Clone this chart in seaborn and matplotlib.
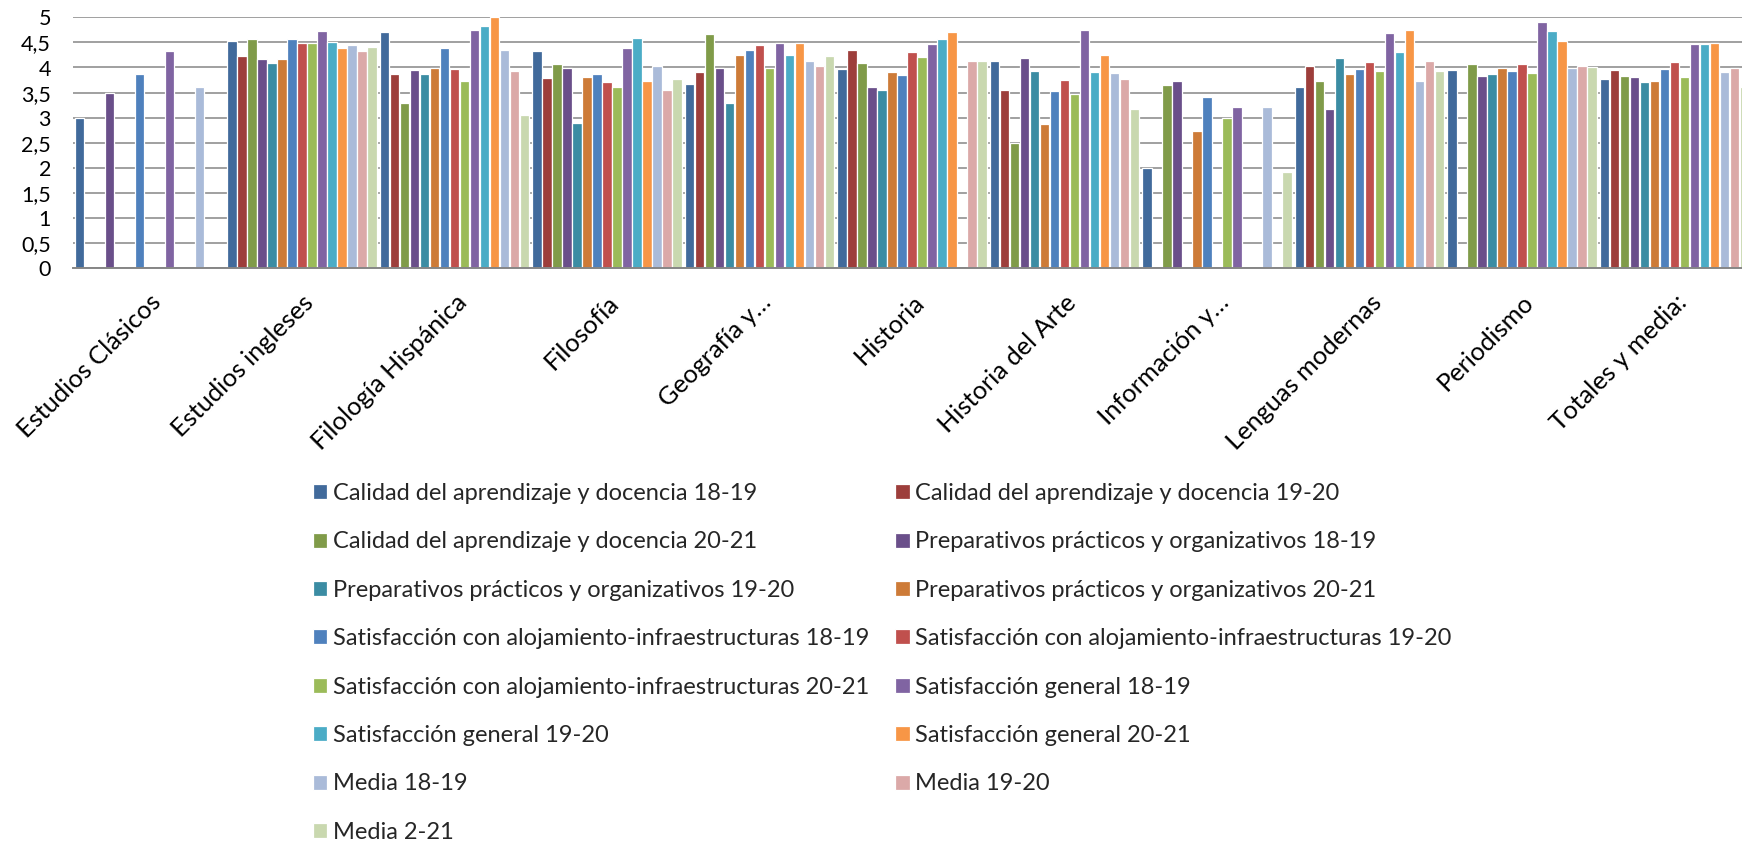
import numpy as np
import pandas as pd
import matplotlib
matplotlib.use("Agg")
import matplotlib.pyplot as plt
from matplotlib.ticker import FuncFormatter, MultipleLocator
import seaborn as sns

nan = np.nan

titulaciones = [
    "Estudios Clásicos", "Estudios ingleses", "Filología Hispánica", "Filosofía",
    "Geografía y…", "Historia", "Historia del Arte", "Información y…",
    "Lenguas modernas", "Periodismo", "Totales y media:",
]

series = [
    "Calidad del aprendizaje y docencia 18-19",
    "Calidad del aprendizaje y docencia 19-20",
    "Calidad del aprendizaje y docencia 20-21",
    "Preparativos prácticos y organizativos 18-19",
    "Preparativos prácticos y organizativos 19-20",
    "Preparativos prácticos y organizativos 20-21",
    "Satisfacción con alojamiento-infraestructuras 18-19",
    "Satisfacción con alojamiento-infraestructuras 19-20",
    "Satisfacción con alojamiento-infraestructuras 20-21",
    "Satisfacción general 18-19",
    "Satisfacción general 19-20",
    "Satisfacción general 20-21",
    "Media 18-19",
    "Media 19-20",
    "Media 2-21",
]

calidad_18_19 = [3.00, 4.53, 4.70, 4.32, 3.67, 3.97, 4.12, 1.99, 3.61, 3.96, 3.78]
calidad_19_20 = [nan, 4.22, 3.88, 3.79, 3.91, 4.35, 3.55, nan, 4.02, nan, 3.96]
calidad_20_21 = [nan, 4.56, 3.29, 4.07, 4.66, 4.09, 2.49, 3.66, 3.74, 4.07, 3.84]
preparativos_18_19 = [3.50, 4.17, 3.96, 3.99, 3.99, 3.61, 4.18, 3.74, 3.18, 3.83, 3.81]
preparativos_19_20 = [nan, 4.09, 3.87, 2.89, 3.30, 3.55, 3.93, nan, 4.18, 3.87, 3.71]
preparativos_20_21 = [nan, 4.17, 3.99, 3.81, 4.24, 3.91, 2.87, 2.74, 3.87, 3.99, 3.73]
alojamiento_18_19 = [3.87, 4.57, 4.38, 3.88, 4.35, 3.86, 3.53, 3.42, 3.98, 3.94, 3.97]
alojamiento_19_20 = [nan, 4.49, 3.98, 3.71, 4.45, 4.30, 3.76, nan, 4.11, 4.06, 4.10]
alojamiento_20_21 = [nan, 4.49, 3.74, 3.61, 3.99, 4.20, 3.48, 2.99, 3.94, 3.90, 3.81]
general_18_19 = [4.32, 4.73, 4.74, 4.39, 4.49, 4.46, 4.74, 3.22, 4.69, 4.91, 4.46]
general_19_20 = [nan, 4.50, 4.82, 4.59, 4.24, 4.57, 3.91, nan, 4.30, 4.72, 4.46]
general_20_21 = [nan, 4.39, 5.00, 3.74, 4.49, 4.70, 4.24, nan, 4.74, 4.52, 4.48]
media_18_19 = [3.61, 4.45, 4.35, 4.03, 4.12, nan, 3.90, 3.22, 3.74, 3.99, 3.92]
media_19_20 = [nan, 4.32, 3.94, 3.56, 4.03, 4.13, 3.77, nan, 4.12, 4.03, 3.99]
media_20_21 = [nan, 4.40, 3.06, 3.77, 4.22, 4.13, 3.18, 1.92, 3.93, 4.00, 3.62]

valores = [
    calidad_18_19, calidad_19_20, calidad_20_21,
    preparativos_18_19, preparativos_19_20, preparativos_20_21,
    alojamiento_18_19, alojamiento_19_20, alojamiento_20_21,
    general_18_19, general_19_20, general_20_21,
    media_18_19, media_19_20, media_20_21,
]

colores = [
    "#416a9b", "#9d3e3b", "#809b49", "#6a4f8a", "#3b8ca3", "#cd7b38",
    "#4f81bd", "#c0504d", "#9bbb59", "#8064a2", "#4bacc6", "#f79646",
    "#aabbd9", "#dba9a8", "#c9d8af",
]

rows = []
for nombre, vals in zip(series, valores):
    for tit, v in zip(titulaciones, vals):
        if not np.isnan(v):
            rows.append({"Titulación": tit, "Serie": nombre, "Valor": v})
df = pd.DataFrame(rows)

sns.set_theme(style="white")
plt.rcParams["font.family"] = ["Lato", "DejaVu Sans"]

W, H = 1742, 844
fig = plt.figure(figsize=(W / 100, H / 100), dpi=100)
# plot area in pixels: left 73, top 17, bottom 268; runs past the right edge
left, top, bottom = 73.3, 17.3, 268.3
cat_w = 152.5
ax = fig.add_axes([left / W, 1 - bottom / H, 11 * cat_w / W, (bottom - top) / H])

sns.barplot(
    data=df, x="Titulación", y="Valor", hue="Serie",
    order=titulaciones, hue_order=series, palette=colores,
    width=0.985, gap=0.06, errorbar=None, ax=ax,
    edgecolor="white", linewidth=0.9, saturation=1,
)

handles, labels = ax.get_legend_handles_labels()
ax.get_legend().remove()

ax.set_xlim(-0.5, len(titulaciones) - 0.5)
ax.set_ylim(0, 5)
ax.yaxis.set_major_locator(MultipleLocator(0.5))
ax.yaxis.set_major_formatter(FuncFormatter(lambda v, _: f"{v:g}".replace(".", ",")))
ax.set_axisbelow(True)
ax.grid(axis="y", color="#868686", linewidth=1.1)
ax.grid(axis="x", visible=False)
for side in ["top", "right", "left"]:
    ax.spines[side].set_visible(False)
ax.spines["bottom"].set_color("#868686")
ax.spines["bottom"].set_linewidth(1.4)
ax.set_xlabel("")
ax.set_ylabel("")
ax.tick_params(axis="y", length=0, pad=16, labelsize=15.5, labelcolor="black")
ax.tick_params(axis="x", length=0, pad=16, labelsize=18.3, labelcolor="black")
for lab in ax.get_xticklabels():
    lab.set_rotation(45)
    lab.set_ha("right")
    lab.set_va("top")
    lab.set_rotation_mode("anchor")

# row-major order for the two-column legend
orden = list(range(0, 15, 2)) + list(range(1, 15, 2))
leg = fig.legend(
    [handles[i] for i in orden], [labels[i] for i in orden],
    ncol=2, loc="upper left", bbox_to_anchor=(313 / W, 1 - 483 / H),
    frameon=False, fontsize=17, borderpad=0, borderaxespad=0,
    handlelength=0.6, handleheight=0.6, handletextpad=0.25,
    columnspacing=1.1, labelspacing=1.16,
)

fig.savefig("out.png", dpi=100)
